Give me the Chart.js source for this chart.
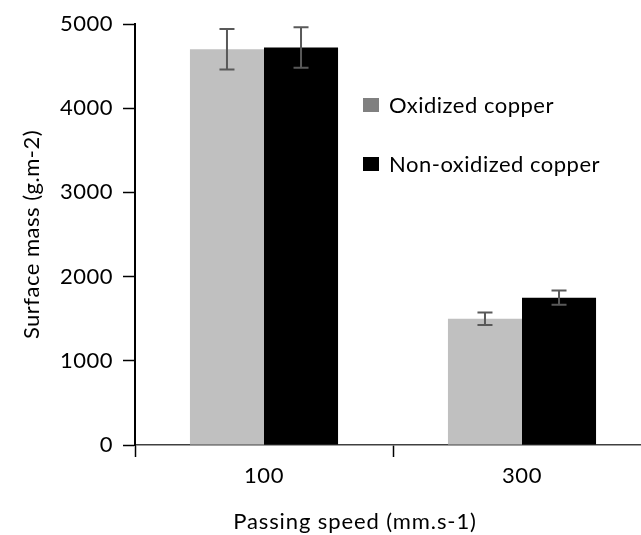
<!DOCTYPE html>
<html><head><meta charset="utf-8">
<script src="https://cdn.jsdelivr.net/npm/chart.js@4"></script>
<style>html,body{margin:0;padding:0;overflow:hidden;background:#fff;width:641px;height:535px}
canvas{display:block}</style></head>
<body><canvas id="c" width="660" height="535"></canvas>
<script>
const categories = ['100', '300'];
const seriesNames = ['Oxidized copper', 'Non-oxidized copper'];
const oxidized = [4700, 1500];
const oxidizedErr = [240, 75];
const nonOxidized = [4720, 1750];
const nonOxidizedErr = [240, 85];
const yTicks = [0, 1000, 2000, 3000, 4000, 5000];
const xTitle = 'Passing speed (mm.s-1)';
const yTitle = 'Surface mass (g.m-2)';

const FONT = 'Lato';
const FS = 22;
const SPACING = '0.5px';
const barColors = ['#c0c0c0', '#000000'];
const legendColors = ['#808080', '#000000'];
const errors = [oxidizedErr, nonOxidizedErr];

const spacing = {
  id: 'spacing',
  beforeInit(chart) { chart.ctx.letterSpacing = SPACING; },
  beforeLayout(chart) { chart.ctx.letterSpacing = SPACING; },
  beforeDraw(chart) { chart.ctx.letterSpacing = SPACING; }
};

const errorBars = {
  id: 'errorBars',
  afterDatasetsDraw(chart) {
    const ctx = chart.ctx, ys = chart.scales.y;
    ctx.save();
    ctx.strokeStyle = '#595959';
    ctx.lineWidth = 2;
    chart.data.datasets.forEach((ds, i) => {
      const meta = chart.getDatasetMeta(i);
      meta.data.forEach((el, j) => {
        const v = ds.data[j], e = errors[i][j];
        const x = el.x, y1 = ys.getPixelForValue(v + e), y2 = ys.getPixelForValue(v - e);
        ctx.beginPath();
        ctx.moveTo(x, y1); ctx.lineTo(x, y2);
        ctx.moveTo(x - 7.5, y1); ctx.lineTo(x + 7.5, y1);
        ctx.moveTo(x - 7.5, y2); ctx.lineTo(x + 7.5, y2);
        ctx.stroke();
      });
    });
    ctx.restore();
  }
};

const decorations = {
  id: 'decorations',
  afterDraw(chart) {
    const ctx = chart.ctx, a = chart.chartArea;
    ctx.save();
    ctx.letterSpacing = SPACING;
    ctx.font = FS + 'px ' + FONT;
    ctx.fillStyle = '#000';
    // legend
    const rows = [105, 164];
    seriesNames.forEach((name, i) => {
      ctx.fillStyle = legendColors[i];
      ctx.fillRect(363, rows[i] - 7, 16, 14);
      ctx.fillStyle = '#000';
      ctx.textAlign = 'left';
      ctx.textBaseline = 'alphabetic';
      ctx.fillText(name, 389, rows[i] + 7.5);
    });
    // y title
    ctx.save();
    ctx.textAlign = 'center';
    ctx.textBaseline = 'alphabetic';
    ctx.translate(39, (a.top + a.bottom) / 2);
    ctx.rotate(-Math.PI / 2);
    ctx.fillText(yTitle, 0, 0);
    ctx.restore();
    // x title
    ctx.letterSpacing = '0.9px';
    ctx.textAlign = 'center';
    ctx.textBaseline = 'alphabetic';
    ctx.fillText(xTitle, 355, 529);
    ctx.restore();
  }
};

new Chart(document.getElementById('c'), {
  type: 'bar',
  data: {
    labels: categories,
    datasets: [
      { label: seriesNames[0], data: oxidized, backgroundColor: barColors[0], borderWidth: 0 },
      { label: seriesNames[1], data: nonOxidized, backgroundColor: barColors[1], borderWidth: 0 }
    ]
  },
  options: {
    responsive: false,
    animation: false,
    devicePixelRatio: 1,
    layout: { padding: { top: 24, right: 9, left: 0, bottom: 0 } },
    datasets: { bar: { categoryPercentage: 0.574, barPercentage: 1.0 } },
    plugins: { legend: { display: false }, tooltip: { enabled: false } },
    scales: {
      x: {
        grid: { offset: true, drawOnChartArea: false, tickLength: 12, tickColor: '#000', tickWidth: 1.5 },
        border: { color: '#404040', width: 1.5 },
        ticks: { font: { family: FONT, size: FS }, color: '#000', padding: 6 },
        afterFit(s) { s.height = 90; }
      },
      y: {
        min: 0, max: 5000,
        afterBuildTicks(s) { s.ticks = yTicks.map(v => ({ value: v })); },
        grid: { drawOnChartArea: false, tickLength: 12, tickColor: '#000', tickWidth: 1.5 },
        border: { color: '#000', width: 2 },
        ticks: { font: { family: FONT, size: FS }, color: '#000', padding: 10, callback: v => String(v) },
        afterFit(s) { s.width = 135; }
      }
    }
  },
  plugins: [spacing, errorBars, decorations]
});
</script>
</body></html>
